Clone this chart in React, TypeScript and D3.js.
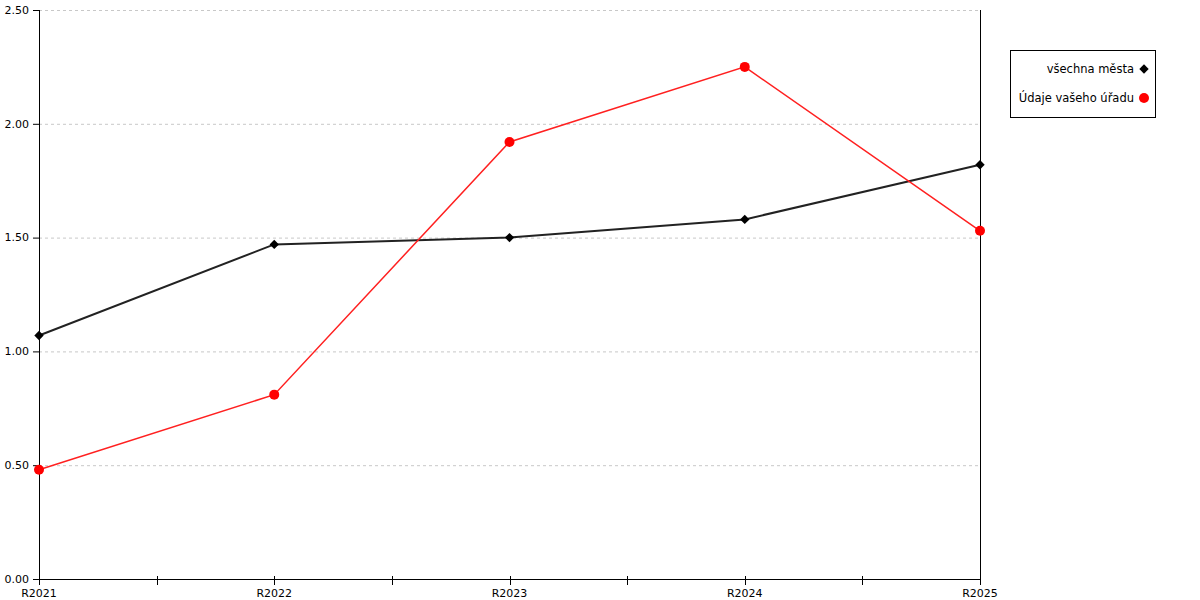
import { useEffect, useRef } from 'react';
import * as d3 from 'd3';

const years = ['R2021', 'R2022', 'R2023', 'R2024', 'R2025'];
const allCities = [1.07, 1.47, 1.5, 1.58, 1.82];
const yourOffice = [0.48, 0.81, 1.92, 2.25, 1.53];
const yTicks = [0, 0.5, 1, 1.5, 2, 2.5];
const seriesNames = ['všechna města', 'Údaje vašeho úřadu'];

export default function App() {
  const svgRef = useRef<SVGSVGElement>(null);

  useEffect(() => {
    if (!svgRef.current) return;
    const svg = d3.select(svgRef.current);
    svg.selectAll('*').remove();

    const font = 'DejaVu Sans, Verdana, sans-serif';
    const x0 = 39, x1 = 980, yTop = 10, yBot = 579;
    const x = d3.scalePoint<string>().domain(years).range([x0, x1]);
    const y = d3.scaleLinear().domain([0, 2.5]).range([yBot, yTop]);

    // grid
    svg.append('g').selectAll('line').data(yTicks.filter(d => d > 0)).enter().append('line')
      .attr('x1', x0).attr('x2', x1).attr('y1', d => y(d) + 0.5).attr('y2', d => y(d) + 0.5)
      .attr('stroke', '#c8c8c8').attr('stroke-dasharray', '3,3').attr('stroke-width', 1);

    // y axis
    svg.append('line').attr('x1', x0 + 0.5).attr('x2', x0 + 0.5).attr('y1', yTop).attr('y2', yBot + 6)
      .attr('stroke', '#000');
    svg.append('line').attr('x1', x1 + 0.5).attr('x2', x1 + 0.5).attr('y1', yTop).attr('y2', yBot + 6)
      .attr('stroke', '#000');
    const yt = svg.append('g').selectAll('g').data(yTicks).enter().append('g');
    yt.append('line').attr('x1', x0 - 6).attr('x2', x0).attr('y1', d => y(d) + 0.5).attr('y2', d => y(d) + 0.5)
      .attr('stroke', '#000');
    yt.append('text').attr('x', x0 - 10).attr('y', d => y(d)).attr('dy', '0.35em')
      .attr('text-anchor', 'end').attr('font-family', font).attr('font-size', 11).attr('fill', '#000')
      .text(d => d.toFixed(2));

    // x axis
    svg.append('line').attr('x1', x0).attr('x2', x1 + 1).attr('y1', yBot + 0.5).attr('y2', yBot + 0.5)
      .attr('stroke', '#000');
    const step = x.step();
    const minor = years.slice(0, -1).map(d => (x(d) as number) + step / 2);
    svg.append('g').selectAll('line').data(years.map(d => x(d) as number).concat(minor)).enter().append('line')
      .attr('x1', d => Math.round(d) + 0.5).attr('x2', d => Math.round(d) + 0.5)
      .attr('y1', yBot - 3).attr('y2', yBot + 6).attr('stroke', '#000');
    svg.append('g').selectAll('text').data(years).enter().append('text')
      .attr('x', d => x(d) as number).attr('y', 597).attr('text-anchor', 'middle')
      .attr('font-family', font).attr('font-size', 11).attr('fill', '#000').text(d => d);

    const line = d3.line<number>().x((_, i) => x(years[i]) as number).y(d => y(d));

    // black series
    svg.append('path').datum(allCities).attr('d', line).attr('fill', 'none')
      .attr('stroke', '#222').attr('stroke-width', 2);
    const diamond = d3.symbol().type(d3.symbolSquare).size(44);
    svg.append('g').selectAll('path').data(allCities).enter().append('path')
      .attr('d', diamond()).attr('transform', (d, i) => `translate(${x(years[i])},${y(d)}) rotate(45)`)
      .attr('fill', '#000');

    // red series
    svg.append('path').datum(yourOffice).attr('d', line).attr('fill', 'none')
      .attr('stroke', '#ff2020').attr('stroke-width', 1.5);
    svg.append('g').selectAll('circle').data(yourOffice).enter().append('circle')
      .attr('cx', (_, i) => x(years[i]) as number).attr('cy', d => y(d)).attr('r', 5)
      .attr('fill', '#ff0000');

    // legend
    const lg = svg.append('g');
    lg.append('rect').attr('x', 1010.5).attr('y', 50.5).attr('width', 145).attr('height', 67)
      .attr('fill', '#fff').attr('stroke', '#000');
    seriesNames.forEach((name, i) => {
      const cy = 69 + i * 29;
      lg.append('text').attr('x', 1134).attr('y', cy).attr('dy', '0.35em').attr('text-anchor', 'end')
        .attr('font-family', font).attr('font-size', 11.5).attr('fill', '#000').text(name);
      if (i === 0) {
        lg.append('path').attr('d', diamond()).attr('transform', `translate(1144,${cy}) rotate(45)`).attr('fill', '#000');
      } else {
        lg.append('circle').attr('cx', 1144).attr('cy', cy).attr('r', 5).attr('fill', '#ff0000');
      }
    });
  }, []);

  return <svg ref={svgRef} width={1200} height={600} style={{ display: 'block', position: 'absolute', left: 0, top: 0 }} />;
}
